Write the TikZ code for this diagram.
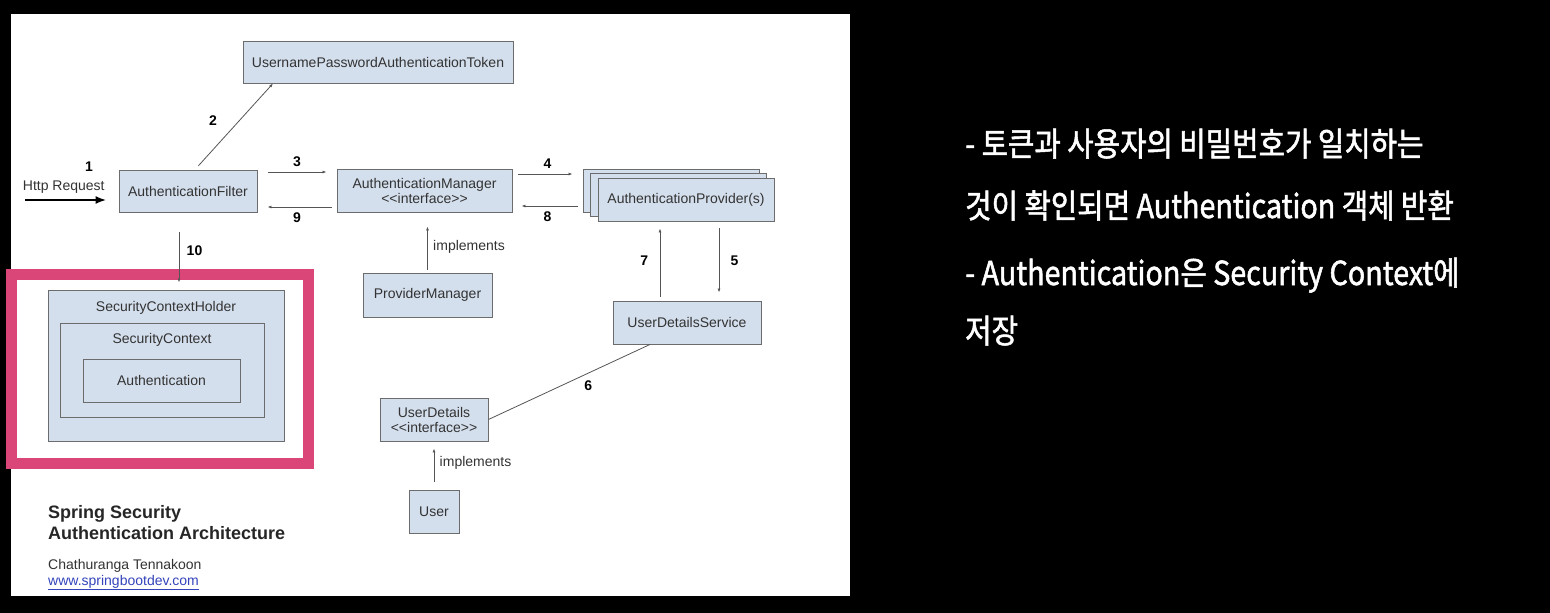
\documentclass[tikz,border=0pt]{standalone}
\usepackage{fontspec}
\setmainfont{Liberation Sans}
\newfontfamily\kofont[FakeStretch=0.87,FakeBold=1.6]{Noto Sans CJK KR}
\usepackage{tikz}
\usetikzlibrary{arrows.meta,positioning}
\definecolor{boxfill}{RGB}{212,223,237}
\definecolor{boxline}{RGB}{108,108,108}
\definecolor{wirecol}{RGB}{85,85,85}
\definecolor{hilite}{RGB}{219,70,120}
\definecolor{linkblue}{RGB}{51,68,187}
\newcommand{\iface}{<\kern0pt<interface>\kern0pt>}

\begin{document}
\begin{tikzpicture}[x=1pt,y=1pt,>={Latex[length=4pt,width=3pt]}, every node/.style={font=\fontsize{14}{15}\selectfont, text=black!80}]
\tikzstyle{box}=[draw=boxline, fill=boxfill, line width=0.9pt, minimum height=43pt, inner sep=0pt, align=center]
\tikzstyle{num}=[font=\fontsize{14}{15}\selectfont\bfseries, text=black]
\tikzstyle{wire}=[draw=wirecol, line width=0.8pt]
\tikzstyle{ko}=[anchor=base west, inner sep=0pt, text=white, font=\kofont\fontsize{33}{36}\selectfont]
\tikzstyle{foot}=[anchor=base west, inner sep=0pt]
% page and panel
\fill[black] (0,0) rectangle (1550,-613);
\useasboundingbox (0,0) rectangle (1550,-613);
\fill[white] (11,-14) rectangle (850,-596);
% boxes
\node[box, minimum width=270pt, minimum height=42pt] (tok) at (378,-62) {UsernamePasswordAuthenticationToken};
\node[box, minimum width=138pt, minimum height=42pt] (flt) at (188,-191) {AuthenticationFilter};
\node[box, minimum width=175pt] (mgr) at (424.5,-190.5) {AuthenticationManager\\\iface};
\node[box, minimum width=176pt] (prv3) at (671,-190.5) {};
\node[box, minimum width=176pt] (prv2) at (678,-194.5) {};
\node[box, minimum width=176pt] (prv) at (686,-199.5) {AuthenticationProvider(s)};
\node[box, minimum width=129pt, minimum height=44pt] (pm) at (427.5,-295) {ProviderManager};
\node[box, minimum width=148pt] (uds) at (687,-322.5) {UserDetailsService};
\node[box, minimum width=108pt] (ud) at (434,-419.5) {UserDetails\\\iface};
\node[box, minimum width=50pt] (usr) at (434,-511.5) {User};
% security context
\node[box, minimum width=236pt, minimum height=151pt, label={[anchor=north, yshift=-8pt]north:SecurityContextHolder}] (sch) at (166,-365.5) {};
\node[box, minimum width=204pt, minimum height=94pt, label={[anchor=north, yshift=-7pt]north:SecurityContext}] (sc) at (162,-370) {};
\node[box, minimum width=157pt] (auth) at (161.5,-380.5) {Authentication};
\draw[hilite, line width=11pt] (11.5,-274) rectangle (308.5,-463.5);
% connectors
\coordinate (req) at (25,-200);
\draw[black, line width=2.2pt, -{Latex[length=11pt,width=8pt]}, shorten >=12pt] (req) -- (req -| flt.west) node[midway, above=2pt, xshift=-8pt] (http) {Http Request};
\node[num] (one) at (89,-167) {1};
\draw[wire, ->, shorten <=5pt] ([xshift=7pt]flt.north) -- ([xshift=-105pt]tok.south) node[num, midway, xshift=-21pt, yshift=6pt] (n2) {2};
\draw[wire, ->, shorten <=11pt, shorten >=10pt] ([yshift=19pt]flt.east) -- ([yshift=19pt]flt.east -| mgr.west) node[num, midway, above=2pt] (n3) {3};
\draw[wire, ->, shorten <=5pt, shorten >=10pt] ([yshift=-16.5pt]mgr.west) -- ([yshift=-16.5pt]mgr.west -| flt.east) node[num, midway, below=2pt] (n9) {9};
\draw[wire, ->, shorten <=6pt, shorten >=10pt] ([yshift=16.5pt]mgr.east) -- ([yshift=16.5pt]mgr.east -| prv3.west) node[num, midway, above=2pt] (n4) {4};
\draw[wire, ->, shorten <=5pt, shorten >=9pt] ([yshift=-15.5pt]mgr.east -| prv3.west) -- ([yshift=-15.5pt]mgr.east) node[num, midway, below=2pt] (n8) {8};
\draw[wire, ->, shorten <=20pt, shorten >=7pt] ([xshift=-9pt]flt.south) -- ([xshift=-9pt]flt.south |- sch.north) node[num, midway, right=4pt] (n10) {10};
\draw[wire, ->, shorten <=3pt, shorten >=14pt] (pm.north) -- (pm.north |- mgr.south) node[midway, right=2pt, yshift=-4pt] (impl1) {implements};
\draw[wire, ->, shorten <=4pt, shorten >=7pt] ([xshift=-27pt]uds.north) -- ([xshift=-27pt]uds.north |- prv.south) node[num, midway, left=8pt] (n7) {7};
\draw[wire, ->, shorten <=7pt, shorten >=8pt] ([xshift=32pt]uds.north |- prv.south) -- ([xshift=32pt]uds.north) node[num, midway, right=8pt] (n5) {5};
\draw[wire] ([xshift=-37pt]uds.south) -- (ud.east) node[num, midway, xshift=19pt, yshift=-4pt] (n6) {6};
\draw[wire, ->, shorten <=8pt, shorten >=7pt] (usr.north) -- (ud.south) node[midway, right=2pt, yshift=3pt] (impl2) {implements};
% footer
\node[foot, font=\fontsize{18}{21}\selectfont\bfseries, text=black!85] (ttl1) at (48,-518) {Spring Security};
\node[foot, font=\fontsize{18}{21}\selectfont\bfseries, text=black!85] (ttl2) at (48,-539) {Authentication Architecture};
\node[foot] (author) at (48,-569) {Chathuranga Tennakoon};
\node[foot, text=linkblue] (url) at (48,-585) {\underline{www.springbootdev.com}};
% notes
\node[ko] (l1) at (965,-156) {- 토큰과 사용자의 비밀번호가 일치하는};
\node[ko] (l2) at (965,-218) {것이 확인되면 Authentication 객체 반환};
\node[ko] (l3) at (965,-285) {- Authentication은 Security Context에};
\node[ko] (l4) at (965,-343) {저장};
\end{tikzpicture}
\end{document}
